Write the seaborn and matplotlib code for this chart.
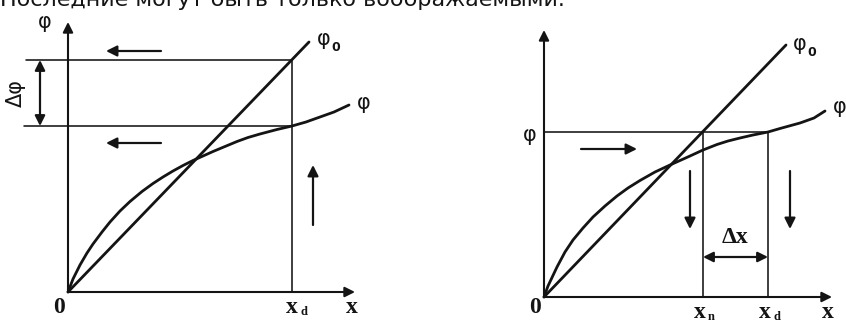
import matplotlib
matplotlib.use("Agg")
import matplotlib.pyplot as plt
import seaborn as sns
import pandas as pd

# Left diagram: static characteristic phi(x) and linear reference phi0(x)
left_phi_x = [0.00, 0.05, 0.12, 0.19, 0.25, 0.34, 0.42, 0.52, 0.62, 0.74, 0.85, 0.95,
              1.05, 1.15, 1.25, 1.35, 1.45, 1.57, 1.69, 1.80, 1.92, 2.09, 2.24, 2.38,
              2.52, 2.66, 2.81]
left_phi_y = [0.00, 0.13, 0.27, 0.39, 0.48, 0.60, 0.70, 0.81, 0.905, 1.005, 1.085, 1.15,
              1.21, 1.265, 1.315, 1.36, 1.405, 1.455, 1.505, 1.545, 1.58, 1.625, 1.66, 1.70,
              1.75, 1.80, 1.87]
left_phi0_x = [0.00, 2.41]
left_phi0_y = [0.00, 2.50]

# Right diagram
right_phi_x = [0.00, 0.04, 0.13, 0.21, 0.29, 0.39, 0.49, 0.61, 0.73, 0.84, 0.96, 1.11,
               1.26, 1.46, 1.59, 1.73, 1.84, 1.96, 2.09, 2.24, 2.36, 2.56, 2.70, 2.81]
right_phi_y = [0.00, 0.11, 0.30, 0.45, 0.57, 0.69, 0.80, 0.91, 1.01, 1.09, 1.165, 1.25,
               1.32, 1.41, 1.47, 1.525, 1.56, 1.59, 1.62, 1.65, 1.685, 1.74, 1.79, 1.86]
right_phi0_x = [0.00, 2.42]
right_phi0_y = [0.00, 2.52]

x_d = 2.24
x_n = 1.59
phi_left_at_xd = 1.66
phi0_left_at_xd = 2.32
phi_right_level = 1.65

INK = "#141414"
SANS = ["DejaVu Sans"]
SERIF = ["Liberation Serif", "DejaVu Serif"]

sns.set_theme(style="white")
plt.rcParams["font.family"] = SANS

fig = plt.figure(figsize=(8.46, 3.23), dpi=100)
W, H = 846, 323

# Each panel uses units where its origin sits at (0, 0)
axL = fig.add_axes([0, 0, 423 / W, 1])
axL.set_xlim(-0.68, 3.55)
axL.set_ylim(-0.31, 2.92)
axR = fig.add_axes([423 / W, 0, 423 / W, 1])
axR.set_xlim(-1.21, 3.02)
axR.set_ylim(-0.26, 2.97)
for ax in (axL, axR):
    ax.set_axis_off()

CURVE_LW = 2.0
THIN_LW = 1.15
AXIS_LW = 1.5


def arrow(ax, start, end, lw=1.5, style="-|>", ms=16):
    ax.annotate("", xy=end, xytext=start, xycoords="data",
                arrowprops=dict(arrowstyle=style, color=INK, lw=lw,
                                mutation_scale=ms, shrinkA=0, shrinkB=0))


def curves(ax, px, py, p0x, p0y):
    for xs, ys in ((px, py), (p0x, p0y)):
        sns.lineplot(data=pd.DataFrame({"x": xs, "y": ys}), x="x", y="y", ax=ax,
                     color=INK, lw=CURVE_LW, sort=False, estimator=None,
                     solid_joinstyle="round", solid_capstyle="round")
    ax.set_axis_off()


def phi0_label(ax, x, y):
    ax.text(x, y, "φ", fontsize=15, color=INK, family=SANS, ha="left", va="baseline")
    ax.text(x + 0.14, y - 0.06, "0", fontsize=9, color=INK, family=SANS,
            ha="left", va="baseline", fontweight="bold")


def xlabel(ax, x, y, main, sub=None):
    ax.text(x, y, main, fontsize=17, color=INK, family=SERIF, fontweight="bold",
            ha="center", va="baseline")
    if sub:
        ax.text(x + 0.08, y - 0.02, sub, fontsize=9, color=INK, family=SERIF,
                fontweight="bold", ha="left", va="baseline")


# ---------- left diagram ----------
arrow(axL, (0, 0), (0, 2.70), lw=AXIS_LW, ms=15)
arrow(axL, (0, 0), (2.87, 0), lw=AXIS_LW, ms=15)
curves(axL, left_phi_x, left_phi_y, left_phi0_x, left_phi0_y)
axL.plot([x_d, x_d], [0, phi0_left_at_xd], color=INK, lw=THIN_LW)
axL.plot([-0.42, x_d], [phi0_left_at_xd, phi0_left_at_xd], color=INK, lw=THIN_LW)
axL.plot([-0.44, x_d], [phi_left_at_xd, phi_left_at_xd], color=INK, lw=THIN_LW)
arrow(axL, (-0.28, phi_left_at_xd), (-0.28, phi0_left_at_xd), lw=1.6, style="<|-|>", ms=15)
axL.text(-0.52, (phi_left_at_xd + phi0_left_at_xd) / 2, "Δφ", fontsize=15, color=INK,
         rotation=90, ha="center", va="center")
arrow(axL, (0.93, 2.41), (0.38, 2.41), lw=1.6)
arrow(axL, (0.93, 1.49), (0.38, 1.49), lw=1.6)
arrow(axL, (2.45, 0.67), (2.45, 1.27), lw=1.6)
axL.text(-0.23, 2.64, "φ", fontsize=15, color=INK, ha="center", va="baseline")
phi0_label(axL, 2.49, 2.47)
axL.text(2.89, 1.83, "φ", fontsize=15, color=INK, ha="left", va="baseline")
xlabel(axL, -0.09, -0.21, "0")
xlabel(axL, 2.24, -0.21, "x", "d")
xlabel(axL, 2.84, -0.21, "x")

# ---------- right diagram ----------
arrow(axR, (0, 0), (0, 2.67), lw=AXIS_LW, ms=15)
arrow(axR, (0, 0), (2.88, 0), lw=AXIS_LW, ms=15)
curves(axR, right_phi_x, right_phi_y, right_phi0_x, right_phi0_y)
axR.plot([0, x_d], [phi_right_level, phi_right_level], color=INK, lw=THIN_LW)
axR.plot([x_n, x_n], [0, phi_right_level], color=INK, lw=THIN_LW)
axR.plot([x_d, x_d], [0, phi_right_level], color=INK, lw=THIN_LW)
arrow(axR, (0.37, 1.48), (0.93, 1.48), lw=1.6)
arrow(axR, (1.46, 1.26), (1.46, 0.68), lw=1.6)
arrow(axR, (2.46, 1.26), (2.46, 0.68), lw=1.6)
arrow(axR, (x_n, 0.40), (x_d, 0.40), lw=1.6, style="<|-|>", ms=15)
axR.text((x_n + x_d) / 2, 0.54, "Δx", fontsize=17, color=INK, family=SERIF,
         fontweight="bold", ha="center", va="baseline")
axR.text(-0.14, 1.56, "φ", fontsize=15, color=INK, ha="center", va="baseline")
phi0_label(axR, 2.49, 2.47)
axR.text(2.89, 1.84, "φ", fontsize=15, color=INK, ha="left", va="baseline")
xlabel(axR, -0.09, -0.16, "0")
xlabel(axR, x_n - 0.03, -0.21, "x", "n")
xlabel(axR, x_d - 0.03, -0.21, "x", "d")
xlabel(axR, 2.84, -0.21, "x")

# preceding line of the page text, cut by the top edge
fig.text(0.0, 1 - 6 / H, "Последние могут быть только воображаемыми.", fontsize=16,
         color=INK, family=SANS, ha="left", va="baseline")

fig.savefig("out.png", dpi=100, facecolor="white")
